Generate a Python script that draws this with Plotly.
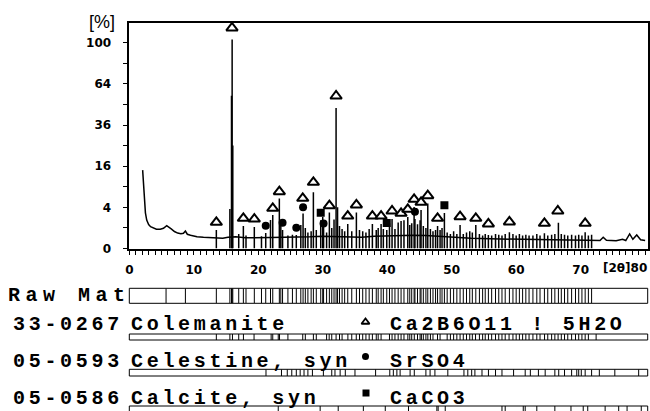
import numpy as np
import plotly.graph_objects as go

W, H = 650, 411

# ---------------- data ----------------
# measured background profile (2theta [deg], intensity [%])
bg_2theta = [2.07, 2.2, 2.35, 2.5, 2.7, 3.0, 3.3, 3.7, 4.2, 4.8, 5.3, 5.8, 6.1, 6.5, 7.0,
             7.5, 8.0, 8.4, 8.7, 9.0, 9.5, 10.5, 11.5, 12.5, 13.3, 14.5, 15.3, 16.5, 18.0,
             20.0, 22.0, 24.0, 26.0, 28.0, 30.0, 33.0, 36.0, 38.0, 40.0, 42.0, 44.0, 46.0,
             48.0, 50.0, 53.0, 56.0, 59.0, 62.0, 65.0, 68.0, 71.0, 73.0, 73.5, 74.0, 75.5,
             76.5, 77.0, 77.6, 78.1, 78.7, 79.3, 80.0]
bg_int = [14.5, 9.0, 5.0, 3.0, 1.9, 1.35, 1.12, 1.0, 0.88, 0.88, 0.96, 1.23, 1.1, 0.9, 0.68,
          0.56, 0.52, 0.55, 0.72, 0.48, 0.42, 0.33, 0.30, 0.28, 0.27, 0.25, 0.30, 0.32, 0.27,
          0.26, 0.28, 0.30, 0.30, 0.32, 0.35, 0.32, 0.30, 0.35, 0.38, 0.40, 0.42, 0.40,
          0.35, 0.30, 0.25, 0.22, 0.20, 0.20, 0.18, 0.17, 0.16, 0.15, 0.30, 0.16, 0.14,
          0.20, 0.15, 0.50, 0.20, 0.43, 0.18, 0.15]

# peak list of the scan (2theta, intensity %)
peak_2theta = [13.50, 15.60, 15.85, 15.95, 16.05, 16.97, 17.69, 18.10, 19.39, 20.50, 21.16,
               21.90, 22.25, 23.27, 23.50, 23.77, 24.60, 25.30, 25.90, 26.60, 26.95, 27.30,
               27.70, 28.20, 28.55, 29.00, 29.69, 30.00, 30.13, 30.60, 31.03, 31.40, 31.75,
               32.07, 32.30, 32.60, 33.00, 33.40, 33.88, 34.50, 35.22, 35.70, 36.20, 36.70,
               37.20, 37.70, 38.30, 38.60, 39.05, 39.40, 39.93, 40.35, 40.75, 41.20, 41.70,
               42.15, 42.60, 43.19, 43.50, 43.80, 44.17, 44.30, 44.70, 45.10, 45.25, 45.60,
               46.00, 46.29, 46.70, 47.10, 47.50, 47.81, 48.20, 48.50, 48.87, 49.30, 49.80,
               50.30, 50.80, 51.30, 51.80, 52.30, 52.80, 53.20, 53.74, 54.30, 54.80, 55.20,
               55.69, 56.20, 56.80, 57.30, 57.80, 58.30, 58.95, 59.50, 60.00, 60.50, 61.00,
               61.50, 62.00, 62.60, 63.20, 63.70, 64.38, 64.90, 65.50, 66.00, 66.55, 67.00,
               67.50, 68.00, 68.60, 69.20, 69.70, 70.20, 70.70, 71.20, 71.70]
peak_int = [0.81, 3.7, 55.0, 103.0, 25.0, 0.5, 1.19, 0.4, 1.09, 0.35, 0.57,
            1.92, 2.65, 5.9, 1.2, 0.81, 0.4, 0.45, 0.43, 1.3, 2.9, 1.0,
            0.6, 0.7, 7.5, 0.8, 1.9, 2.34, 1.2, 0.6, 3.06, 1.0, 2.0,
            46.6, 4.0, 1.2, 0.9, 0.7, 1.42, 0.7, 3.06, 0.8, 0.7, 0.6,
            0.9, 1.42, 0.8, 1.0, 1.42, 0.9, 0.81, 1.5, 2.05, 0.9, 1.6,
            1.79, 1.9, 2.34, 1.3, 1.5, 4.07, 2.05, 1.4, 1.9, 3.5, 1.2,
            1.0, 4.78, 0.9, 0.7, 0.8, 1.19, 0.8, 1.0, 2.97, 0.6, 0.5,
            0.7, 0.5, 1.3, 0.5, 0.6, 0.7, 0.6, 1.3, 0.5, 0.4, 0.5,
            0.43, 0.4, 0.5, 0.45, 0.4, 0.5, 0.62, 0.5, 0.4, 0.5, 0.4,
            0.45, 0.4, 0.4, 0.5, 0.4, 0.55, 0.4, 0.45, 0.5, 1.57, 0.5,
            0.45, 0.4, 0.45, 0.4, 0.45, 0.4, 0.62, 0.4, 0.45]

# phase identification markers (2theta, intensity level of the symbol)
cole_2theta = [13.50, 15.93, 17.69, 19.39, 22.25, 23.27, 26.90, 28.55, 31.03, 32.07, 33.88,
               35.22, 37.70, 39.05, 40.75, 42.15, 43.19, 44.17, 45.25, 46.29, 47.81, 51.30,
               53.74, 55.69, 58.95, 64.38, 66.46, 70.70]
cole_int = [1.62, 114.8, 2.15, 2.05, 3.82, 7.62, 5.95, 10.35, 4.33, 54.9, 2.49,
            4.47, 2.49, 2.49, 3.32, 2.93, 3.63, 5.72, 5.04, 6.58, 2.15, 2.39,
            2.15, 1.42, 1.66, 1.50, 3.32, 1.50]
cele_2theta = [21.16, 23.77, 25.90, 26.95, 30.13, 44.30]
cele_int = [1.23, 1.57, 1.01, 4.0, 1.48, 3.2]
calc_2theta = [29.69, 39.93, 48.87]
calc_int = [3.03, 1.54, 4.43]

# stick patterns
rawmat_lines = [5.7, 8.7] + peak_2theta
cole_lines = [13.5, 15.6, 16.0, 16.97, 17.7, 19.35, 22.0, 22.25, 23.1, 23.3, 24.6, 26.9,
              27.3, 28.55, 29.0, 30.6, 31.0, 31.4, 32.07, 32.6, 33.0, 33.9, 34.5, 35.2,
              35.7, 36.2, 36.7, 37.2, 37.7, 38.3, 38.6, 39.05, 40.35, 40.75, 41.2, 41.7,
              42.15, 42.6, 43.2, 43.5, 43.8, 44.2, 44.7, 45.1, 45.3, 45.6, 46.0, 46.3,
              46.7, 47.1, 47.8, 48.2, 49.3, 49.8, 50.3, 50.8, 51.3, 51.8, 52.3, 52.8,
              53.2, 53.7, 54.3, 54.8, 55.2, 55.7, 56.2, 56.8, 57.3, 57.8, 58.3, 58.9,
              59.5, 60.0, 60.5, 61.0, 61.5, 62.0, 62.6, 63.2, 63.7, 64.4, 64.9, 65.5,
              66.0, 66.5, 67.0, 67.5, 68.0, 68.6, 69.2, 69.7, 70.2, 70.7, 71.2, 72.4]
cele_lines = [21.2, 23.6, 24.5, 25.2, 25.9, 26.5, 27.1, 27.7, 28.4, 30.1, 31.4, 31.9, 32.7,
              33.5, 35.0, 38.2, 40.4, 40.95, 41.5, 42.0, 43.55, 44.2, 46.0, 46.65, 47.4,
              49.4, 51.9, 52.5, 53.1, 53.6, 54.7, 55.7, 56.8, 57.8, 59.6, 61.4, 62.2,
              63.45, 64.5, 66.0, 66.6, 67.5, 68.6, 69.4, 69.7, 70.1, 70.7, 71.7, 72.9,
              75.3, 79.0]
calc_lines = [23.1, 29.6, 32.4, 36.3, 39.7, 43.3, 47.7, 47.9, 49.0, 57.8, 58.3, 61.1,
              61.4, 63.2, 66.0, 68.5, 70.4, 71.1, 73.8, 75.9, 77.2, 79.4]

y_ticks_pct = [0, 1, 4, 9, 16, 25, 36, 49, 64, 81, 100]
y_labels = ["0", "", "4", "", "16", "", "36", "", "64", "", "100"]
x_ticks = list(range(0, 81))
x_labels = [str(v) if v % 10 == 0 and v < 80 else "" for v in x_ticks]

rows = [
    dict(code="Raw Mat", name="", sym=None, formula=""),
    dict(code="33-0267", name="Colemanite", sym="triangle-up", formula="Ca2B6O11 ! 5H2O"),
    dict(code="05-0593", name="Celestine, syn", sym="circle", formula="SrSO4"),
    dict(code="05-0586", name="Calcite, syn", sym="square", formula="CaCO3"),
]

# ---------------- layout geometry (pixels) ----------------
X0, X1 = 129.3, 647.7
XMAX = 80.4
Y_TOP, Y_BOT = 22.7, 248.5
strip_px = [(288.3, 303.3), (334.0, 340.0), (369.3, 376.0), (406.0, 411.0)]


def pdom(top, bot):
    return [max(0.0, (H - bot) / H), (H - top) / H]


def sq(v):
    return [float(np.sqrt(a)) if a is not None else None for a in v]


def sticks(xs, lo, his):
    xx, yy = [], []
    for x, h in zip(xs, his):
        xx += [x, x, None]
        yy += [lo, h, None]
    return xx, yy


fig = go.Figure()

# background profile
fig.add_trace(go.Scatter(x=bg_2theta, y=sq(bg_int), mode="lines",
                         line=dict(color="black", width=1.5), hoverinfo="skip"))
# peaks as sticks from the axis
px, py = sticks(peak_2theta, 0, sq(peak_int))
fig.add_trace(go.Scatter(x=px, y=py, mode="lines",
                         line=dict(color="black", width=1.5), hoverinfo="skip"))
# phase markers
fig.add_trace(go.Scatter(x=cele_2theta, y=sq(cele_int), mode="markers",
                         marker=dict(symbol="circle", size=8, color="black")))
fig.add_trace(go.Scatter(x=calc_2theta, y=sq(calc_int), mode="markers",
                         marker=dict(symbol="square", size=8, color="black")))
fig.add_trace(go.Scatter(x=cole_2theta, y=sq(cole_int), mode="markers", cliponaxis=False,
                         marker=dict(symbol="triangle-up", size=10, color="white",
                                     line=dict(color="black", width=2))))

# strips
strip_lines = [rawmat_lines, cole_lines, cele_lines, calc_lines]
shapes = []
for i, (lines, (t, b)) in enumerate(zip(strip_lines, strip_px)):
    ya = "y%d" % (i + 2)
    xx, yy = sticks(lines, 0, [1] * len(lines))
    fig.add_trace(go.Scatter(x=xx, y=yy, mode="lines", yaxis=ya,
                             line=dict(color="black", width=1), hoverinfo="skip"))
    fig.layout["yaxis%d" % (i + 2)] = dict(domain=pdom(t, b), range=[0, 1], visible=False,
                                           anchor="x", fixedrange=True, automargin=False)
    shapes.append(dict(type="rect", xref="x domain", yref="%s domain" % ya,
                       x0=0, x1=1, y0=(-0.5 if i == 3 else 0), y1=1,
                       line=dict(color="black", width=1)))

# a hidden full-page axis for the row symbols (legend glyphs), pixel units
fig.layout["yaxis6"] = dict(domain=[0, 1], range=[H, 0], visible=False, anchor="x",
                            fixedrange=True, automargin=False)
sym_px = [(365.5, 322.0), (365.5, 356.5), (366.0, 393.0)]
for r, (sx, sy) in zip(rows[1:], sym_px):
    filled = r["sym"] != "triangle-up"
    fig.add_trace(go.Scatter(x=[(sx - X0) / (X1 - X0) * XMAX], y=[sy], yaxis="y6",
                             mode="markers", cliponaxis=False,
                             marker=dict(symbol=r["sym"], size=7,
                                         color="black" if filled else "white",
                                         line=dict(color="black", width=0 if filled else 1.8)),
                             hoverinfo="skip"))

tickfont = dict(family="DejaVu Sans", size=12, color="black", weight=700)
fig.update_layout(
    template="none",
    width=W, height=H, margin=dict(l=0, r=0, t=0, b=0, pad=0), autosize=False,
    paper_bgcolor="white", plot_bgcolor="rgba(0,0,0,0)", showlegend=False,
    xaxis=dict(domain=[X0 / W, X1 / W], range=[0, XMAX], showgrid=False, zeroline=False,
               showline=True, linecolor="black", linewidth=1.5, mirror=True,
               tickmode="array", tickvals=x_ticks, ticktext=x_labels,
               ticks="outside", ticklen=5, tickwidth=1, tickcolor="black",
               ticklabelstandoff=4, automargin=False,
               tickfont=tickfont, anchor="y"),
    yaxis=dict(domain=pdom(Y_TOP, Y_BOT), range=[0, 10.97], showgrid=False, zeroline=False,
               showline=True, linecolor="black", linewidth=1.5, mirror=True,
               tickmode="array", tickvals=sq(y_ticks_pct), ticktext=y_labels,
               ticks="outside", ticklen=5, tickwidth=1, tickcolor="black",
               ticklabelstandoff=9, automargin=False,
               tickfont=tickfont, anchor="x"),
    shapes=shapes,
)

mono = dict(family="Liberation Mono", size=20, color="black", weight=700)
row_y = [295.0, 324.5, 361.0, 398.5]
row_ls = [5.5, 3.7, 3.7, 3.7]
anns = []


def mtext(s, ls):
    return '<span style="letter-spacing:%.1fpx">%s</span>' % (ls, s)


for r, yv, ls in zip(rows, row_y, row_ls):
    anns.append(dict(x=(6 if r["code"] == "Raw Mat" else 11) / W, y=(H - yv) / H,
                     xref="paper", yref="paper", xanchor="left", yanchor="middle",
                     text=mtext(r["code"], ls), showarrow=False, font=mono))
    if r["name"]:
        anns.append(dict(x=128.5 / W, y=(H - yv) / H, xref="paper", yref="paper",
                         xanchor="left", yanchor="middle",
                         text=mtext(r["name"], 3.7), showarrow=False, font=mono))
        anns.append(dict(x=387.5 / W, y=(H - yv) / H, xref="paper", yref="paper",
                         xanchor="left", yanchor="middle",
                         text=mtext(r["formula"], 3.7), showarrow=False, font=mono))

anns.append(dict(x=102 / W, y=(H - 22) / H, xref="paper", yref="paper", text="[%]",
                 xanchor="center", yanchor="middle", showarrow=False,
                 font=dict(family="Liberation Sans", size=18, color="black")))
anns.append(dict(x=649 / W, y=(H - 268) / H, xref="paper", yref="paper", xanchor="right",
                 yanchor="middle", text="[2θ]80", showarrow=False, font=tickfont))
fig.update_layout(annotations=anns)

fig.write_html("out.html")
